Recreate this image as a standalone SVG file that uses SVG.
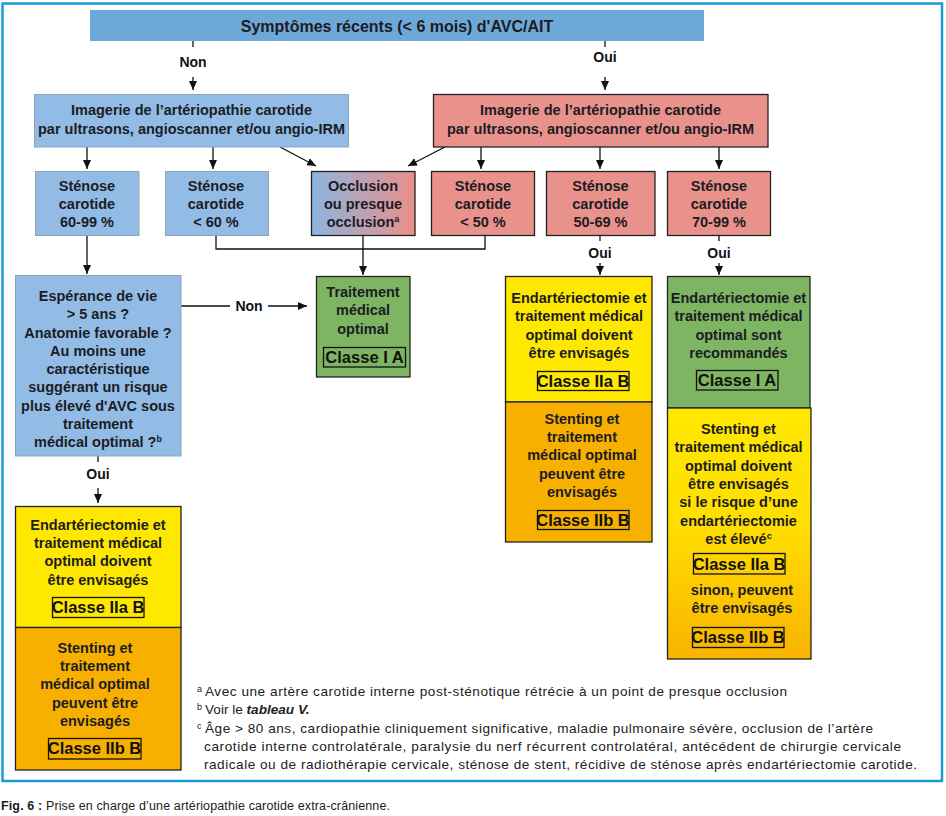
<svg xmlns="http://www.w3.org/2000/svg" width="946" height="816" viewBox="0 0 946 816">
<defs>
<style>
.t{font-family:"Liberation Sans Narrow","Liberation Sans",sans-serif;font-weight:700;font-size:14.5px;fill:#1c1c24;text-anchor:middle}
.cl{font-family:"Liberation Sans Narrow","Liberation Sans",sans-serif;font-weight:700;font-size:16.5px;fill:#111;text-anchor:middle}
.lb{font-family:"Liberation Sans Narrow","Liberation Sans",sans-serif;font-weight:700;font-size:14px;fill:#111;text-anchor:middle}
.fn{font-family:"Liberation Sans",sans-serif;font-size:13.6px;fill:#222}
.sup{font-size:9px}
.cb{fill:none;stroke:#111;stroke-width:1.3}
.bd{stroke:#222;stroke-width:1.3}
.lbd{stroke:#8aa4c0;stroke-width:1}
.ln{fill:none;stroke:#111;stroke-width:1.3}
</style>
<marker id="ah" markerUnits="userSpaceOnUse" markerWidth="10" markerHeight="10" refX="9" refY="4" orient="auto">
<path d="M0,0 L9,4 L0,8 Z" fill="#111"/>
</marker>
<linearGradient id="gOcc" x1="0" y1="0" x2="1" y2="0">
<stop offset="0" stop-color="#8db5e1"/>
<stop offset="1" stop-color="#eb8f88"/>
</linearGradient>
<linearGradient id="gYO" x1="0" y1="0" x2="0" y2="1">
<stop offset="0" stop-color="#ffe800"/>
<stop offset="0.45" stop-color="#ffdf00"/>
<stop offset="1" stop-color="#f8b300"/>
</linearGradient>
</defs>
<rect width="946" height="816" fill="#fff"/>
<rect x="2.5" y="3.5" width="939.5" height="777.5" fill="none" stroke="#1e9bd7" stroke-width="2.5"/>

<g id="connectors">
<line class="ln" x1="193" y1="41" x2="193" y2="47"/>
<line class="ln" x1="193" y1="77" x2="193" y2="90" marker-end="url(#ah)"/>
<text class="lb" x="193" y="67">Non</text>
<line class="ln" x1="605" y1="41" x2="605" y2="47"/>
<line class="ln" x1="605" y1="77" x2="605" y2="90" marker-end="url(#ah)"/>
<text class="lb" x="605" y="62">Oui</text>
<line class="ln" x1="87" y1="147" x2="87" y2="169" marker-end="url(#ah)"/>
<line class="ln" x1="213" y1="147" x2="213" y2="169" marker-end="url(#ah)"/>
<line class="ln" x1="280" y1="147" x2="316" y2="166" marker-end="url(#ah)"/>
<line class="ln" x1="445" y1="147" x2="408" y2="166" marker-end="url(#ah)"/>
<line class="ln" x1="481" y1="147" x2="481" y2="169" marker-end="url(#ah)"/>
<line class="ln" x1="600" y1="147" x2="600" y2="169" marker-end="url(#ah)"/>
<line class="ln" x1="719" y1="147" x2="719" y2="169" marker-end="url(#ah)"/>
<polyline class="ln" points="216,236 216,249 485,249 485,236"/>
<line class="ln" x1="87" y1="236" x2="87" y2="274" marker-end="url(#ah)"/>
<line class="ln" x1="363" y1="236" x2="363" y2="275" marker-end="url(#ah)"/>
<line class="ln" x1="600" y1="236" x2="600" y2="241"/>
<text class="lb" x="600" y="258">Oui</text>
<line class="ln" x1="600" y1="263" x2="600" y2="275" marker-end="url(#ah)"/>
<line class="ln" x1="719" y1="236" x2="719" y2="241"/>
<text class="lb" x="719" y="258">Oui</text>
<line class="ln" x1="719" y1="263" x2="719" y2="275" marker-end="url(#ah)"/>
<line class="ln" x1="181" y1="306" x2="230" y2="306"/>
<text class="lb" x="249" y="311">Non</text>
<line class="ln" x1="268" y1="306" x2="307" y2="306" marker-end="url(#ah)"/>
<line class="ln" x1="98" y1="456" x2="98" y2="462"/>
<text class="lb" x="98" y="479">Oui</text>
<line class="ln" x1="98" y1="488" x2="98" y2="503" marker-end="url(#ah)"/>
</g>

<g id="n-top">
<rect x="90" y="10" width="614" height="31" fill="#6ea8d8"/>
<text class="t" x="397" y="32" style="font-size:16px">Symptômes récents (&lt; 6 mois) d'AVC/AIT</text>
</g>

<g id="n-img-non">
<rect class="lbd" x="34.5" y="94.5" width="314" height="52.5" fill="#92bce5"/>
<text class="t" x="191.5" y="115">Imagerie de l’artériopathie carotide</text>
<text class="t" x="191.5" y="134">par ultrasons, angioscanner et/ou angio-IRM</text>
</g>

<g id="n-img-oui">
<rect class="bd" x="433.5" y="94.5" width="334.5" height="52.5" fill="#e9928c"/>
<text class="t" x="600.5" y="115">Imagerie de l’artériopathie carotide</text>
<text class="t" x="600.5" y="134">par ultrasons, angioscanner et/ou angio-IRM</text>
</g>

<g id="n-s6099">
<rect class="lbd" x="35.5" y="171.5" width="103.5" height="64" fill="#92bce5"/>
<text class="t" x="87" y="191">Sténose</text>
<text class="t" x="87" y="209">carotide</text>
<text class="t" x="87" y="227">60-99 %</text>
</g>

<g id="n-s60">
<rect class="lbd" x="165.5" y="171.5" width="103" height="64" fill="#92bce5"/>
<text class="t" x="216" y="191">Sténose</text>
<text class="t" x="216" y="209">carotide</text>
<text class="t" x="216" y="227">&lt; 60 %</text>
</g>

<g id="n-occl">
<rect class="bd" x="311.5" y="171.5" width="103.5" height="64" fill="url(#gOcc)"/>
<text class="t" x="363" y="191">Occlusion</text>
<text class="t" x="363" y="209">ou presque</text>
<text class="t" x="363" y="227">occlusion<tspan class="sup" dy="-5">a</tspan></text>
</g>

<g id="n-s50">
<rect class="bd" x="431.5" y="171.5" width="103" height="64" fill="#e9928c"/>
<text class="t" x="483" y="191">Sténose</text>
<text class="t" x="483" y="209">carotide</text>
<text class="t" x="483" y="227">&lt; 50 %</text>
</g>

<g id="n-s5069">
<rect class="bd" x="546.5" y="171.5" width="108.5" height="64" fill="#e9928c"/>
<text class="t" x="600.5" y="191">Sténose</text>
<text class="t" x="600.5" y="209">carotide</text>
<text class="t" x="600.5" y="227">50-69 %</text>
</g>

<g id="n-s7099">
<rect class="bd" x="667.5" y="171.5" width="103" height="64" fill="#e9928c"/>
<text class="t" x="719" y="191">Sténose</text>
<text class="t" x="719" y="209">carotide</text>
<text class="t" x="719" y="227">70-99 %</text>
</g>

<g id="n-esperance">
<rect class="lbd" x="15.5" y="275.5" width="165.5" height="180.5" fill="#92bce5"/>
<text class="t" x="98" y="301">Espérance de vie</text>
<text class="t" x="98" y="319">&gt; 5 ans ?</text>
<text class="t" x="98" y="338">Anatomie favorable ?</text>
<text class="t" x="98" y="356">Au moins une</text>
<text class="t" x="98" y="374">caractéristique</text>
<text class="t" x="98" y="392">suggérant un risque</text>
<text class="t" x="98" y="411">plus élevé d'AVC sous</text>
<text class="t" x="98" y="429">traitement</text>
<text class="t" x="98" y="447">médical optimal ?<tspan class="sup" dy="-5">b</tspan></text>
</g>

<g id="n-tmo">
<rect class="bd" x="316.5" y="276.5" width="93.5" height="100.5" fill="#7db562"/>
<text class="t" x="363" y="297">Traitement</text>
<text class="t" x="363" y="315">médical</text>
<text class="t" x="363" y="334">optimal</text>
<rect class="cb" x="323.5" y="347.5" width="82" height="19.5"/>
<text class="cl" x="364.5" y="363">Classe I A</text>
</g>

<g id="n-left-end">
<rect class="bd" x="15.5" y="506.5" width="165.5" height="121" fill="#ffe800"/>
<text class="t" x="98" y="530">Endartériectomie et</text>
<text class="t" x="98" y="548">traitement médical</text>
<text class="t" x="98" y="566">optimal doivent</text>
<text class="t" x="98" y="585">être envisagés</text>
<rect class="cb" x="52.5" y="597.5" width="91.5" height="20"/>
<text class="cl" x="98" y="613">Classe IIa B</text>
</g>

<g id="n-left-stent">
<rect class="bd" x="15.5" y="627.5" width="165.5" height="142.5" fill="#f7b000"/>
<text class="t" x="95" y="653">Stenting et</text>
<text class="t" x="95" y="671">traitement</text>
<text class="t" x="95" y="689">médical optimal</text>
<text class="t" x="95" y="708">peuvent être</text>
<text class="t" x="95" y="726">envisagés</text>
<rect class="cb" x="48.5" y="738.5" width="92.5" height="20.5"/>
<text class="cl" x="94.5" y="754">Classe IIb B</text>
</g>

<g id="n-mid-end">
<rect class="bd" x="505.5" y="276.5" width="146.5" height="125.5" fill="#ffe800"/>
<text class="t" x="579" y="303">Endartériectomie et</text>
<text class="t" x="579" y="321">traitement médical</text>
<text class="t" x="579" y="340">optimal doivent</text>
<text class="t" x="579" y="358">être envisagés</text>
<rect class="cb" x="537.5" y="371.5" width="91.5" height="19"/>
<text class="cl" x="583" y="386.5">Classe IIa B</text>
</g>

<g id="n-mid-stent">
<rect class="bd" x="505.5" y="402" width="146.5" height="140" fill="#f7b000"/>
<text class="t" x="582" y="424">Stenting et</text>
<text class="t" x="582" y="442">traitement</text>
<text class="t" x="582" y="460">médical optimal</text>
<text class="t" x="582" y="479">peuvent être</text>
<text class="t" x="582" y="497">envisagés</text>
<rect class="cb" x="537.5" y="510.5" width="91.5" height="19"/>
<text class="cl" x="583" y="525.5">Classe IIb B</text>
</g>

<g id="n-right-end">
<rect class="bd" x="667.5" y="276.5" width="142.5" height="131.5" fill="#7db562"/>
<text class="t" x="738.5" y="303">Endartériectomie et</text>
<text class="t" x="738.5" y="321">traitement médical</text>
<text class="t" x="738.5" y="340">optimal sont</text>
<text class="t" x="738.5" y="358">recommandés</text>
<rect class="cb" x="696.5" y="370.5" width="81.5" height="19.5"/>
<text class="cl" x="737" y="386">Classe I A</text>
</g>

<g id="n-right-stent">
<rect class="bd" x="667.5" y="408" width="143.5" height="251" fill="url(#gYO)"/>
<text class="t" x="738.5" y="434">Stenting et</text>
<text class="t" x="738.5" y="452">traitement médical</text>
<text class="t" x="738.5" y="471">optimal doivent</text>
<text class="t" x="738.5" y="489">être envisagés</text>
<text class="t" x="738.5" y="507">si le risque d’une</text>
<text class="t" x="738.5" y="526">endartériectomie</text>
<text class="t" x="738.5" y="544">est élevé<tspan class="sup" dy="-5">c</tspan></text>
<rect class="cb" x="693.5" y="553.5" width="91.5" height="20.5"/>
<text class="cl" x="739" y="569.5">Classe IIa B</text>
<text class="t" x="742" y="595">sinon, peuvent</text>
<text class="t" x="742" y="613">être envisagés</text>
<rect class="cb" x="692.5" y="627.5" width="91.5" height="20"/>
<text class="cl" x="738" y="643">Classe IIb B</text>
</g>

<g id="footnotes">
<text class="fn" x="197" y="696"><tspan class="sup" dy="-4">a</tspan><tspan x="205" dy="4" textLength="582">Avec une artère carotide interne post-sténotique rétrécie à un point de presque occlusion</tspan></text>
<text class="fn" x="197" y="714"><tspan class="sup" dy="-4">b</tspan><tspan x="205" dy="4">Voir le </tspan><tspan font-weight="700" font-style="italic">tableau V.</tspan></text>
<text class="fn" x="197" y="733"><tspan class="sup" dy="-4">c</tspan><tspan x="205" dy="4" textLength="668">Âge &gt; 80 ans, cardiopathie cliniquement significative, maladie pulmonaire sévère, occlusion de l’artère</tspan></text>
<text class="fn" x="204" y="751" textLength="697">carotide interne controlatérale, paralysie du nerf récurrent controlatéral, antécédent de chirurgie cervicale</text>
<text class="fn" x="204" y="769" textLength="713">radicale ou de radiothérapie cervicale, sténose de stent, récidive de sténose après endartériectomie carotide.</text>
</g>

<text x="1" y="810" textLength="389" style="font-family:'Liberation Sans',sans-serif;font-size:12.5px;fill:#222"><tspan font-weight="700">Fig. 6 :</tspan> Prise en charge d’une artériopathie carotide extra-crânienne.</text>
</svg>
